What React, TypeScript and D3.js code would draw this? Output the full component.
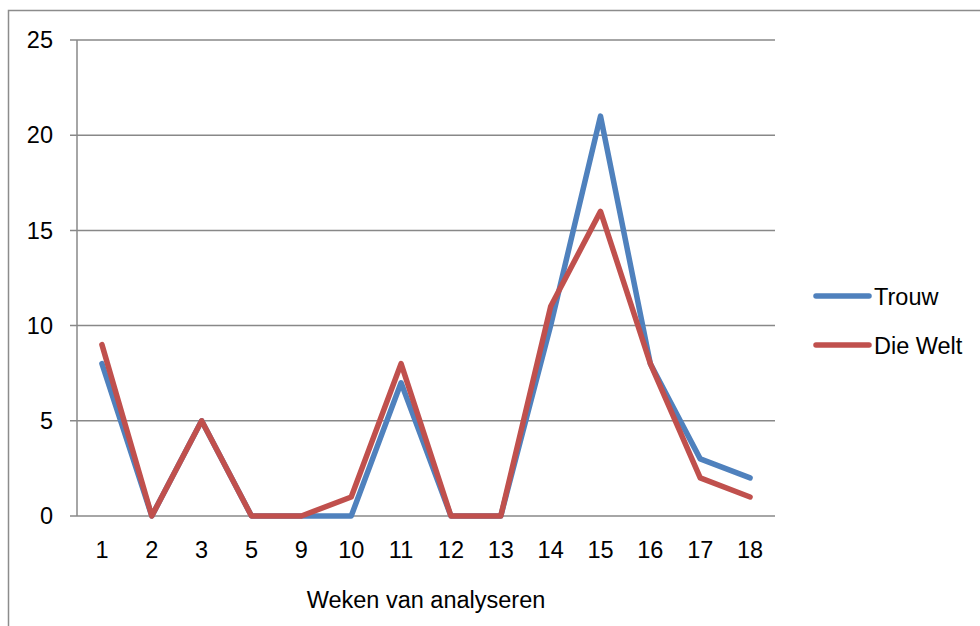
import React from "react";
import * as d3 from "d3";

const weeks = ["1", "2", "3", "5", "9", "10", "11", "12", "13", "14", "15", "16", "17", "18"];
const trouw = [8, 0, 5, 0, 0, 0, 7, 0, 0, 10, 21, 8, 3, 2];
const dieWelt = [9, 0, 5, 0, 0, 1, 8, 0, 0, 11, 16, 8, 2, 1];
const yTicks = [0, 5, 10, 15, 20, 25];
const seriesNames = ["Trouw", "Die Welt"];
const seriesColors = ["#4F81BD", "#C0504D"];
const axisTitle = "Weken van analyseren";

export default function App() {
  const W = 980, H = 626;
  const left = 77, right = 775, top = 40, bottom = 516;
  const x = d3.scaleBand<string>().domain(weeks).range([left, right]);
  const y = d3.scaleLinear().domain([0, 25]).range([bottom, top]);
  const line = d3
    .line<number>()
    .x((_, i) => (x(weeks[i]) as number) + x.bandwidth() / 2)
    .y((d) => y(d));
  const series = [trouw, dieWelt];
  const font = "'Liberation Sans', Arial, sans-serif";
  const grid = "#888888";
  const fs = 23.5;
  return (
    <svg
      width={W}
      height={H}
      style={{ position: "absolute", left: 0, top: 0, background: "#fff" }}
      fontFamily={font}
    >
      <rect x={0} y={0} width={W} height={H} fill="#fff" />
      <rect x={8.5} y={10.5} width={1200} height={1200} fill="none" stroke="#8c8c8c" strokeWidth={1.5} />
      {yTicks.map((t) => (
        <g key={t}>
          <line x1={70} x2={right} y1={y(t)} y2={y(t)} stroke={grid} strokeWidth={1.5} />
          <text x={53} y={y(t)} dy="0.35em" textAnchor="end" fontSize={fs} fill="#000">
            {t}
          </text>
        </g>
      ))}
      <line x1={left} x2={left} y1={top} y2={bottom} stroke={grid} strokeWidth={1.5} />
      {weeks.map((w) => (
        <text
          key={w}
          x={(x(w) as number) + x.bandwidth() / 2}
          y={558}
          textAnchor="middle"
          fontSize={fs}
          fill="#000"
        >
          {w}
        </text>
      ))}
      <text x={(left + right) / 2} y={608} textAnchor="middle" fontSize={fs} fill="#000">
        {axisTitle}
      </text>
      {series.map((s, i) => (
        <path
          key={i}
          d={line(s) || ""}
          fill="none"
          stroke={seriesColors[i]}
          strokeWidth={5.5}
          strokeLinejoin="round"
          strokeLinecap="round"
        />
      ))}
      {seriesNames.map((n, i) => (
        <g key={n}>
          <line
            x1={816}
            x2={869}
            y1={296 + i * 49}
            y2={296 + i * 49}
            stroke={seriesColors[i]}
            strokeWidth={5.5}
            strokeLinecap="round"
          />
          <text x={874} y={305 + i * 49} fontSize={fs} fill="#000">
            {n}
          </text>
        </g>
      ))}
    </svg>
  );
}
